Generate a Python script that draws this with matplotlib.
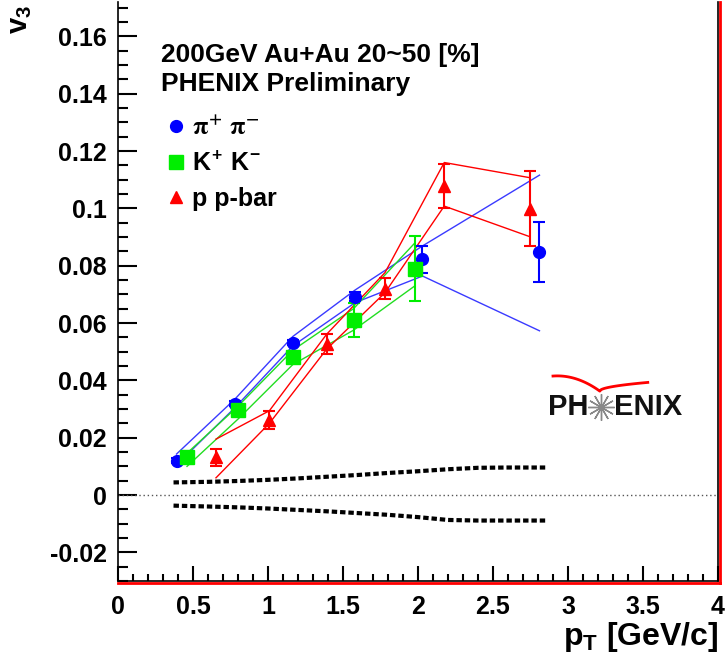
import numpy as np
import matplotlib
matplotlib.use('Agg')
import matplotlib.pyplot as plt
from matplotlib.lines import Line2D
from matplotlib.ticker import MultipleLocator, FuncFormatter

plt.rcParams['font.family'] = ['Liberation Sans', 'DejaVu Sans']
plt.rcParams['font.weight'] = 'bold'
plt.rcParams['mathtext.fontset'] = 'custom'
plt.rcParams['mathtext.rm'] = 'Liberation Sans:bold'
plt.rcParams['mathtext.bf'] = 'Liberation Sans:bold'
plt.rcParams['mathtext.it'] = 'Liberation Sans:bold'

# pions
pi_pt = [0.39, 0.78, 1.165, 1.58, 2.03, 2.81]
pi_v3 = [0.0120, 0.0319, 0.0532, 0.0692, 0.0822, 0.0848]
pi_err = [0.0008, 0.0010, 0.0010, 0.0015, 0.0048, 0.0105]
pi_hi = [0.0143, 0.0335, 0.0553, 0.0715, 0.0869, 0.1116]
pi_lo = [0.0105, 0.0305, 0.0520, 0.0671, 0.0764, 0.0573]

# kaons
k_pt = [0.46, 0.80, 1.165, 1.57, 1.98]
k_v3 = [0.0131, 0.0297, 0.0480, 0.0610, 0.0790]
k_err = [0.0012, 0.0015, 0.0020, 0.0060, 0.0112]
k_hi = [0.0146, 0.0310, 0.0505, 0.0650, 0.0880]
k_lo = [0.0100, 0.0265, 0.0455, 0.0575, 0.0730]

# protons
p_pt = [0.653, 1.009, 1.391, 1.78, 2.175, 2.747]
p_v3 = [0.0131, 0.0262, 0.0526, 0.0720, 0.1078, 0.0999]
p_err = [0.0028, 0.0030, 0.0035, 0.0037, 0.0078, 0.0130]
p_hi = [0.0195, 0.0294, 0.0561, 0.0776, 0.1160, 0.1107]
p_lo = [0.0060, 0.0250, 0.0509, 0.0706, 0.1008, 0.0901]

# systematic band (dashed)
sys_pt = [0.37, 0.6, 0.8, 1.0, 1.2, 1.4, 1.6, 1.8, 2.0, 2.2, 2.4, 2.6, 2.85]
sys_hi = [0.0044, 0.0046, 0.0049, 0.0053, 0.0058, 0.0064, 0.0070, 0.0077,
          0.0083, 0.0090, 0.0095, 0.0096, 0.0096]
sys_lo = [-0.0037, -0.0040, -0.0043, -0.0047, -0.0052, -0.0057, -0.0063,
          -0.0069, -0.0077, -0.0087, -0.0089, -0.0089, -0.0089]

blue = '#0000ff'
green = '#00ee00'
red = '#ff0000'

fig = plt.figure(figsize=(7.25, 6.68), dpi=100)
ax = fig.add_axes([0.1628, 0.1302, 0.8275, 0.8668])

# zero line
ax.axhline(0, color='#555555', lw=1.0, ls=(0, (1, 2)))

# dashed systematics
ax.plot(sys_pt, sys_hi, color='black', lw=3, ls=(0, (1.3, 0.7)))
ax.plot(sys_pt, sys_lo, color='black', lw=3, ls=(0, (1.3, 0.7)))

# band lines
for pt, hi, lo, c in [(pi_pt, pi_hi, pi_lo, '#3a3aff'),
                      (k_pt, k_hi, k_lo, '#22dd22'),
                      (p_pt, p_hi, p_lo, red)]:
    ax.plot(pt, hi, color=c, lw=1.0)
    ax.plot(pt, lo, color=c, lw=1.0)

# data points
ax.errorbar(pi_pt, pi_v3, yerr=pi_err, fmt='o', color=blue, ms=8.5,
            elinewidth=1.5, capsize=4, capthick=1.5, zorder=5)
ax.errorbar(k_pt, k_v3, yerr=k_err, fmt='s', color=green, ms=9.5,
            elinewidth=1.5, capsize=4, capthick=1.5, zorder=5)
ax.errorbar(p_pt, p_v3, yerr=p_err, fmt='^', color=red, ms=8.5,
            elinewidth=1.5, capsize=4, capthick=1.5, zorder=5)

ax.set_xlim(0, 4)
ax.set_ylim(-0.03, 0.172)

ax.xaxis.set_major_locator(MultipleLocator(0.5))
ax.xaxis.set_minor_locator(MultipleLocator(0.1))
ax.yaxis.set_major_locator(MultipleLocator(0.02))
ax.yaxis.set_minor_locator(MultipleLocator(0.005))
fmt = FuncFormatter(lambda v, p: '%g' % round(v, 4))
ax.xaxis.set_major_formatter(fmt)
ax.yaxis.set_major_formatter(fmt)

ax.tick_params(axis='both', which='both', direction='in', width=1.5,
               labelsize=18, top=False, right=False)
ax.tick_params(axis='y', which='major', length=14, pad=8)
ax.tick_params(axis='y', which='minor', length=7)
ax.tick_params(axis='x', which='major', length=11, pad=10)
ax.tick_params(axis='x', which='minor', length=5)
for lab in ax.get_xticklabels() + ax.get_yticklabels():
    lab.set_fontweight('bold')

for s in ['left', 'bottom', 'right']:
    ax.spines[s].set_linewidth(1.2)
    ax.spines[s].set_color('black')
ax.spines['top'].set_visible(False)
# red frame shadow on bottom and right
ax.add_line(Line2D([0, 1.003], [-0.004, -0.004], transform=ax.transAxes,
                   color=red, lw=2.0, clip_on=False))
ax.add_line(Line2D([1.004, 1.004], [-0.004, 1.0], transform=ax.transAxes,
                   color=red, lw=2.0, clip_on=False))

# axis titles
fig.text(0.028, 0.992, r'$\mathbf{v_3}$', rotation=90, ha='center', va='top',
         fontsize=21)
fig.text(0.991, 0.034, r'$\mathbf{p_T}$ [GeV/c]', ha='right', va='baseline',
         fontsize=23, fontweight='bold')

# header text
ax.text(0.072, 0.897, '200GeV Au+Au 20~50 [%]', transform=ax.transAxes,
        fontsize=19, fontweight='bold', va='baseline')
ax.text(0.072, 0.846, 'PHENIX Preliminary', transform=ax.transAxes,
        fontsize=19, fontweight='bold', va='baseline')

# legend
handles = [Line2D([], [], ls='none', marker='o', color=blue, ms=8.5),
           Line2D([], [], ls='none', marker='s', color=green, ms=9.5),
           Line2D([], [], ls='none', marker='^', color=red, ms=8.5)]
labels = [r'$\mathrm{\pi}^{+}\ \mathrm{\pi}^{-}$', r'$K^{+}\ K^{-}$', 'p p-bar']
leg = ax.legend(handles, labels, loc='upper left',
                bbox_to_anchor=(0.0675, 0.820), frameon=False, fontsize=18,
                handlelength=0.6, handletextpad=0.35, labelspacing=0.45,
                borderaxespad=0)
for t in leg.get_texts():
    t.set_fontweight('bold')
leg.get_texts()[0].set_math_fontfamily('stix')

# PHENIX logo
ax.text(0.784, 0.300, 'PH', transform=ax.transAxes, fontsize=21,
        fontweight='bold', ha='right', va='center', color='#111111')
ax.text(0.826, 0.300, 'ENIX', transform=ax.transAxes, fontsize=21,
        fontweight='bold', ha='left', va='center', color='#111111')
ax.plot([0.805], [0.300], transform=ax.transAxes, marker=(12, 2, 0),
        ms=19, mew=1.0, color='#888888', clip_on=False)
t_l = np.linspace(0, 1, 40)
t_r = np.linspace(0, 1, 40)
arc_x = np.concatenate([0.725 + 0.078 * t_l, 0.803 + 0.080 * t_r])
arc_y = np.concatenate([0.354 + 0.006 * t_l - 0.032 * t_l ** 2,
                        0.328 + 0.015 * np.sqrt(t_r)])
ax.plot(arc_x, arc_y, transform=ax.transAxes, color=red, lw=2.0)

fig.savefig('out.png', dpi=100)
